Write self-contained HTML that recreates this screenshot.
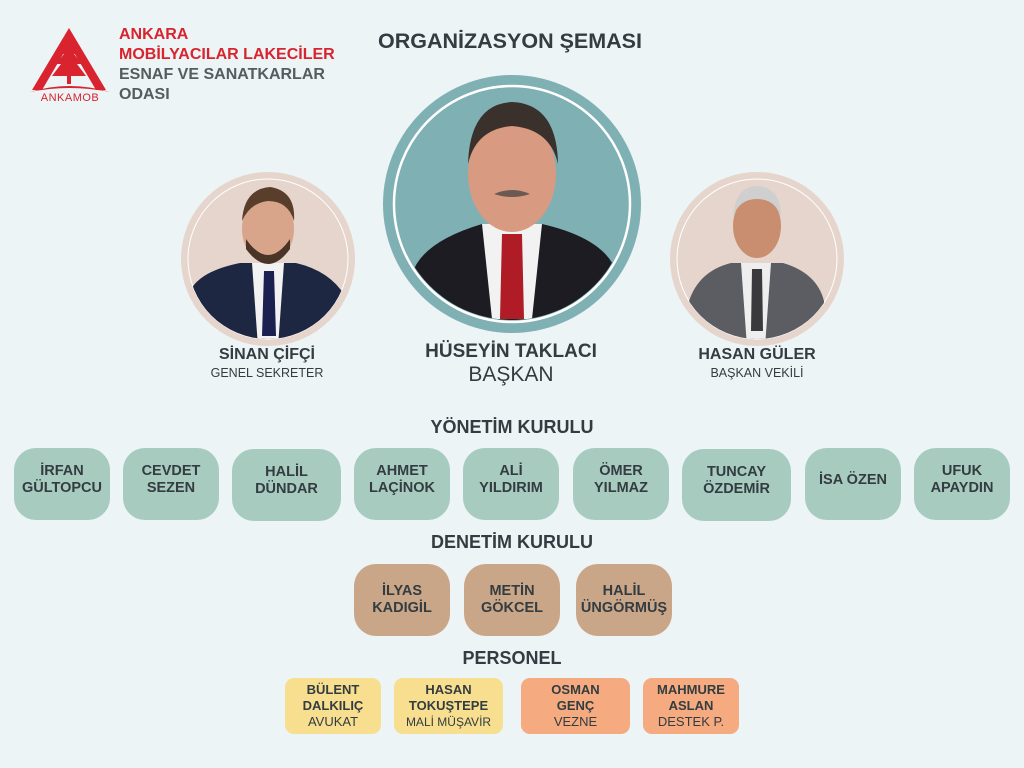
<!DOCTYPE html>
<html><head><meta charset="utf-8"><style>
*{margin:0;padding:0;box-sizing:border-box}
body{width:1024px;height:768px;background:#ecf4f6;position:relative;overflow:hidden;font-family:"Liberation Sans","DejaVu Sans",sans-serif;color:#333c40}
.a{position:absolute}
.t{position:absolute;text-align:center;font-weight:bold;white-space:nowrap}
.b{position:absolute;display:flex;flex-direction:column;align-items:center;justify-content:center;text-align:center;font-weight:bold;font-size:14.5px;line-height:17px;color:#333c40}
.g{background:#a8cbbf;border-radius:22px;height:72px;padding-bottom:8px}
.d{background:#caa688;border-radius:22px;height:72px;top:564px}
.p{border-radius:9px;height:56px;top:678px;font-size:13px;line-height:16px}
.p span{font-weight:normal}
.y{background:#f7df8f}.o{background:#f5aa80}
</style></head><body>

<svg class="a" style="left:26px;top:26px" width="88" height="76" viewBox="0 0 88 76">
<polygon points="43,2 80,64 70,64 43,18 16,64 6,64" fill="#d9232e"/>
<polygon points="43,14 52,28 48,28 56,38 51,38 60,50 26,50 35,38 30,38 38,28 34,28" fill="#d9232e"/>
<rect x="41" y="50" width="4" height="8" fill="#d9232e"/>
<path d="M4,66 Q43,54 84,66 Q43,58 4,66Z" fill="#d9232e"/>
<text x="44" y="75" font-size="11" text-anchor="middle" fill="#d9232e" font-family="Liberation Sans" letter-spacing="0.5">ANKAMOB</text>
</svg>
<div class="a" style="left:119px;top:25px;font-weight:bold;font-size:16px;line-height:20px">
<div style="color:#d9232e">ANKARA</div>
<div style="color:#d9232e">MOBİLYACILAR LAKECİLER</div>
<div style="color:#555b5f">ESNAF VE SANATKARLAR</div>
<div style="color:#555b5f">ODASI</div></div>

<div class="t" style="left:340px;width:340px;top:29px;font-size:21.5px">ORGANİZASYON ŞEMASI</div>

<svg class="a" style="left:382px;top:74px" width="260" height="260" viewBox="0 0 260 260">
<defs><clipPath id="c1"><circle cx="130" cy="130" r="116"/></clipPath></defs>
<circle cx="130" cy="130" r="129" fill="#7fb0b3"/>
<circle cx="130" cy="130" r="118" fill="none" stroke="#fff" stroke-width="2.5"/>
<g clip-path="url(#c1)">
<rect width="260" height="260" fill="#7fb0b3"/>
<path d="M30,200 Q40,168 100,150 L160,150 Q225,165 235,200 L235,260 L30,260Z" fill="#1c1c22"/>
<path d="M100,150 L160,150 L150,245 L110,245Z" fill="#f2f2f2"/>
<path d="M120,160 L140,160 L142,245 L118,245Z" fill="#b01c25"/>
<ellipse cx="130" cy="100" rx="44" ry="58" fill="#d89a80"/>
<path d="M86,90 Q88,30 130,28 Q175,30 176,90 Q168,55 130,52 Q94,55 86,90Z" fill="#3a302c"/>
<path d="M112,120 Q130,112 148,120 Q130,126 112,120Z" fill="#6a5a52"/>
</g></svg>

<svg class="a" style="left:180px;top:171px" width="176" height="176" viewBox="0 0 176 176">
<defs><clipPath id="c2"><circle cx="88" cy="88" r="80"/></clipPath></defs>
<circle cx="88" cy="88" r="87" fill="#e6d5cc"/>
<circle cx="88" cy="88" r="80" fill="none" stroke="#fff" stroke-width="1"/>
<g clip-path="url(#c2)">
<path d="M10,120 Q20,100 60,92 L116,92 Q150,100 165,125 L165,176 L10,176Z" fill="#1e2742"/>
<path d="M72,92 L104,92 L98,176 L78,176Z" fill="#f2f2f2"/>
<path d="M84,100 L94,100 L96,165 L82,165Z" fill="#1a2050"/>
<ellipse cx="88" cy="58" rx="26" ry="34" fill="#d8a58a"/>
<path d="M66,68 Q88,100 110,68 L110,78 Q88,108 66,78Z" fill="#4a3428"/>
<path d="M62,50 Q64,18 90,16 Q116,20 114,50 Q108,30 88,30 Q70,32 62,50Z" fill="#5a3e2c"/>
</g></svg>

<svg class="a" style="left:669px;top:171px" width="176" height="176" viewBox="0 0 176 176">
<defs><clipPath id="c3"><circle cx="88" cy="88" r="80"/></clipPath></defs>
<circle cx="88" cy="88" r="87" fill="#e6d5cc"/>
<circle cx="88" cy="88" r="80" fill="none" stroke="#fff" stroke-width="1"/>
<g clip-path="url(#c3)">
<path d="M20,130 Q30,100 62,92 L114,92 Q148,102 155,130 L155,176 L20,176Z" fill="#5b5d62"/>
<path d="M72,92 L102,92 L96,176 L78,176Z" fill="#eeeeee"/>
<path d="M83,98 L93,98 L94,160 L82,160Z" fill="#3a3a3c"/>
<ellipse cx="88" cy="55" rx="24" ry="32" fill="#c98e70"/>
<path d="M64,46 Q66,16 88,15 Q112,16 112,46 Q106,28 88,28 Q70,28 64,46Z" fill="#cfcfcf"/>
</g></svg>

<div class="t" style="left:167px;width:200px;top:346px;font-size:16px">SİNAN ÇİFÇİ</div>
<div class="t" style="left:167px;width:200px;top:366px;font-size:12.5px;font-weight:normal">GENEL SEKRETER</div>
<div class="t" style="left:380px;width:262px;top:341px;font-size:19px">HÜSEYİN TAKLACI</div>
<div class="t" style="left:380px;width:262px;top:363px;font-size:21px;font-weight:normal">BAŞKAN</div>
<div class="t" style="left:657px;width:200px;top:346px;font-size:16px">HASAN GÜLER</div>
<div class="t" style="left:657px;width:200px;top:366px;font-size:12.5px;font-weight:normal">BAŞKAN VEKİLİ</div>

<div class="t" style="left:362px;width:300px;top:417px;font-size:18px">YÖNETİM KURULU</div>
<div class="b g" style="left:14px;top:448px;width:96px">İRFAN<br>GÜLTOPCU</div>
<div class="b g" style="left:123px;top:448px;width:96px">CEVDET<br>SEZEN</div>
<div class="b g" style="left:232px;top:449px;width:109px">HALİL<br>DÜNDAR</div>
<div class="b g" style="left:354px;top:448px;width:96px">AHMET<br>LAÇİNOK</div>
<div class="b g" style="left:463px;top:448px;width:96px">ALİ<br>YILDIRIM</div>
<div class="b g" style="left:573px;top:448px;width:96px">ÖMER<br>YILMAZ</div>
<div class="b g" style="left:682px;top:449px;width:109px">TUNCAY<br>ÖZDEMİR</div>
<div class="b g" style="left:805px;top:448px;width:96px">İSA ÖZEN</div>
<div class="b g" style="left:914px;top:448px;width:96px">UFUK<br>APAYDIN</div>

<div class="t" style="left:362px;width:300px;top:532px;font-size:18px">DENETİM KURULU</div>
<div class="b d" style="left:354px;width:96px">İLYAS<br>KADIGİL</div>
<div class="b d" style="left:464px;width:96px">METİN<br>GÖKCEL</div>
<div class="b d" style="left:576px;width:96px">HALİL<br>ÜNGÖRMÜŞ</div>

<div class="t" style="left:412px;width:200px;top:648px;font-size:18px">PERSONEL</div>
<div class="b p y" style="left:285px;width:96px">BÜLENT<br>DALKILIÇ<span>AVUKAT</span></div>
<div class="b p y" style="left:394px;width:109px">HASAN<br>TOKUŞTEPE<span style="font-size:12px">MALİ MÜŞAVİR</span></div>
<div class="b p o" style="left:521px;width:109px">OSMAN<br>GENÇ<span>VEZNE</span></div>
<div class="b p o" style="left:643px;width:96px">MAHMURE<br>ASLAN<span>DESTEK P.</span></div>
</body></html>
